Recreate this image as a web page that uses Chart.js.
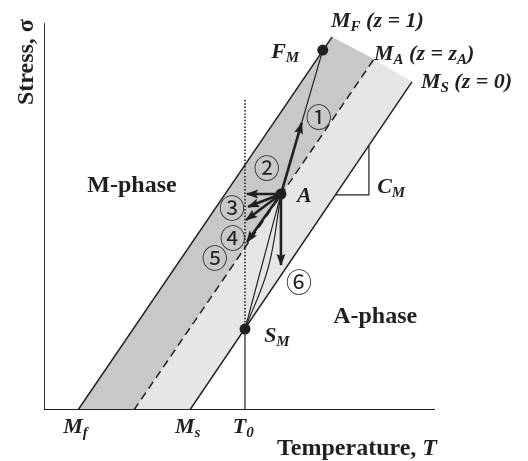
<!DOCTYPE html>
<html>
<head>
<meta charset="utf-8">
<title>stress-temperature phase diagram</title>
<script src="https://cdn.jsdelivr.net/npm/chart.js"></script>
<style>
  body { margin: 0; background: #fff; }
</style>
</head>
<body>
<canvas id="phaseChart" width="528" height="461"></canvas>
<script>
// boundary lines, (temperature, stress) on a 0..100 frame
const mfLine = [{x: 8.7, y: 0}, {x: 73.7, y: 96.4}];   // M_F (z = 1)
const maLine = [{x: 23.0, y: 0}, {x: 84.4, y: 90.7}];  // M_A (z = z_A)
const msLine = [{x: 37.3, y: 0}, {x: 94.1, y: 84.8}];  // M_S (z = 0)

// state points
const pointF = {x: 71.3, y: 93.0};
const pointA = {x: 60.6, y: 55.8};
const pointS = {x: 51.4, y: 20.9};
const t0Top = {x: 51.4, y: 80.1};
const t0Base = {x: 51.4, y: 0};

// arrow tips, all starting from A
const arrowTips = [
  {x: 65.9, y: 74.2},  // 1
  {x: 51.9, y: 55.8},  // 2
  {x: 52.2, y: 52.5},  // 3
  {x: 51.7, y: 49.1},  // 3
  {x: 51.9, y: 43.4},  // 4
  {x: 60.6, y: 37.5}   // 6
];
const curveMid = {x: 57.4, y: 37.0};

// slope triangle for C_M
const slopeTri = [{x: 74.6, y: 55.6}, {x: 83.1, y: 55.6}, {x: 83.1, y: 68.2}];

const axisX = [{x: 0, y: 0}, {x: 100, y: 0}];
const axisY = [{x: 0, y: 0}, {x: 0, y: 100}];

const ink = '#231f20';
const serif = '"Liberation Serif", "Times New Roman", serif';

// text: [text, style]
const textLabels = [
  {x: 22.5, y: 56.3, align: 'center', parts: [['M-phase', 'big']]},
  {x: 84.7, y: 22.5, align: 'center', parts: [['A-phase', 'big']]},
  {x: 59.6, y: -11.6, parts: [['Temperature, ', 'big'], ['T', 'bigi']]},
  {x: -2.8, y: 89.9, align: 'center', rotate: true, parts: [['Stress, \u03c3', 'big']]},
  {x: 73.4, y: 99.0, parts: [['M', 'it'], ['F', 'sub'], [' (z = 1)', 'it']]},
  {x: 84.4, y: 90.4, parts: [['M', 'it'], ['A', 'sub'], [' (z = z', 'it'], ['A', 'sub'], [')', 'it']]},
  {x: 96.4, y: 83.2, parts: [['M', 'it'], ['S', 'sub'], [' (z = 0)', 'it']]},
  {x: 58.1, y: 91.0, parts: [['F', 'it'], ['M', 'sub']]},
  {x: 64.7, y: 53.7, parts: [['A', 'it']]},
  {x: 85.2, y: 56.1, parts: [['C', 'it'], ['M', 'sub']]},
  {x: 56.3, y: 17.6, parts: [['S', 'it'], ['M', 'sub']]},
  {x: 4.9, y: -5.9, parts: [['M', 'it'], ['f', 'sub']]},
  {x: 33.5, y: -5.9, parts: [['M', 'it'], ['s', 'sub']]},
  {x: 48.3, y: -5.9, parts: [['T', 'it'], ['0', 'sub']]},
  {x: 70.3, y: 75.7, align: 'center', parts: [['\u2460', 'circ']]},
  {x: 57.0, y: 62.5, align: 'center', parts: [['\u2461', 'circ']]},
  {x: 48.1, y: 52.2, align: 'center', parts: [['\u2462', 'circ']]},
  {x: 48.3, y: 44.4, align: 'center', parts: [['\u2463', 'circ']]},
  {x: 43.7, y: 39.3, align: 'center', parts: [['\u2464', 'circ']]},
  {x: 65.2, y: 33.1, align: 'center', parts: [['\u2465', 'circ']]}
];

const styles = {
  big: {font: 'bold 24px ' + serif, dy: 0},
  bigi: {font: 'italic bold 24px ' + serif, dy: 0},
  it: {font: 'italic bold 22px ' + serif, dy: 0},
  sub: {font: 'italic bold 15px ' + serif, dy: 4},
  circ: {font: '26px "Noto Sans CJK JP", "DejaVu Sans", sans-serif', dy: 0}
};

function seg(data, extra) {
  return Object.assign({
    data: data, borderColor: ink, borderWidth: 1.5, pointRadius: 0,
    fill: false, tension: 0, order: 2
  }, extra || {});
}

const datasets = [
  seg([mfLine[0], maLine[0], maLine[1], mfLine[1]],
      {indexAxis: 'y', fill: 'shape', backgroundColor: '#c8c8ca', borderWidth: 0, order: 6}),
  seg([msLine[0], maLine[0], maLine[1], msLine[1]],
      {indexAxis: 'y', fill: 'shape', backgroundColor: '#e6e6e8', borderWidth: 0, order: 6}),
  seg(axisX, {borderWidth: 1.8}),
  seg(axisY, {borderWidth: 1.8}),
  seg(mfLine),
  seg(maLine, {borderDash: [8, 5]}),
  seg(msLine),
  seg(slopeTri, {borderWidth: 1.2}),
  seg([t0Top, pointS], {borderWidth: 1.6, borderDash: [1.5, 1.8]}),
  seg([pointS, t0Base], {borderWidth: 1.2}),
  seg([pointA, pointF], {borderWidth: 1.2}),
  seg([pointA, pointS], {borderWidth: 1.2}),
  seg([pointA, curveMid, pointS], {borderWidth: 1.2, tension: 0.4}),
  seg([pointF, pointA, pointS], {showLine: false, pointRadius: 5.5, pointBackgroundColor: ink,
      pointBorderWidth: 0, order: 0})
];
arrowTips.forEach(function(tip) {
  datasets.push(seg([pointA, tip], {borderWidth: 2.6, arrow: true, order: 1}));
});

// arrow heads on the last segment of arrow datasets
const arrowHeads = {
  id: 'arrowHeads',
  afterDatasetsDraw(chart) {
    const ctx = chart.ctx;
    chart.data.datasets.forEach(function(ds, i) {
      if (!ds.arrow) return;
      const pts = chart.getDatasetMeta(i).data;
      const a = pts[pts.length - 2], b = pts[pts.length - 1];
      const ang = Math.atan2(b.y - a.y, b.x - a.x);
      const len = 11, half = 4.5;
      ctx.save();
      ctx.translate(b.x, b.y);
      ctx.rotate(ang);
      ctx.fillStyle = ink;
      ctx.beginPath();
      ctx.moveTo(1, 0);
      ctx.lineTo(-len, -half);
      ctx.lineTo(-len + 2, 0);
      ctx.lineTo(-len, half);
      ctx.closePath();
      ctx.fill();
      ctx.restore();
    });
  }
};

const labelText = {
  id: 'labelText',
  afterDraw(chart) {
    const ctx = chart.ctx;
    const xs = chart.scales.x, ys = chart.scales.y;
    textLabels.forEach(function(lb) {
      ctx.save();
      ctx.fillStyle = ink;
      const isCirc = lb.parts[0][1] === 'circ';
      ctx.textBaseline = isCirc ? 'middle' : 'alphabetic';
      let total = 0;
      lb.parts.forEach(function(p) {
        ctx.font = styles[p[1]].font;
        total += ctx.measureText(p[0]).width;
      });
      ctx.translate(xs.getPixelForValue(lb.x), ys.getPixelForValue(lb.y));
      if (lb.rotate) ctx.rotate(-Math.PI / 2);
      let cx = lb.align === 'center' ? -total / 2 : 0;
      lb.parts.forEach(function(p) {
        const st = styles[p[1]];
        ctx.font = st.font;
        ctx.fillText(p[0], cx, st.dy);
        cx += ctx.measureText(p[0]).width;
      });
      ctx.restore();
    });
  }
};

new Chart(document.getElementById('phaseChart'), {
  type: 'line',
  data: {datasets: datasets},
  options: {
    responsive: false,
    animation: false,
    devicePixelRatio: 1,
    layout: {padding: {left: 44, top: 23, right: 93, bottom: 51}},
    plugins: {legend: {display: false}, tooltip: {enabled: false}},
    elements: {line: {capBezierPoints: false}},
    scales: {
      x: {type: 'linear', min: 0, max: 100, display: false},
      y: {type: 'linear', min: 0, max: 100, display: false}
    }
  },
  plugins: [arrowHeads, labelText]
});
</script>
</body>
</html>
